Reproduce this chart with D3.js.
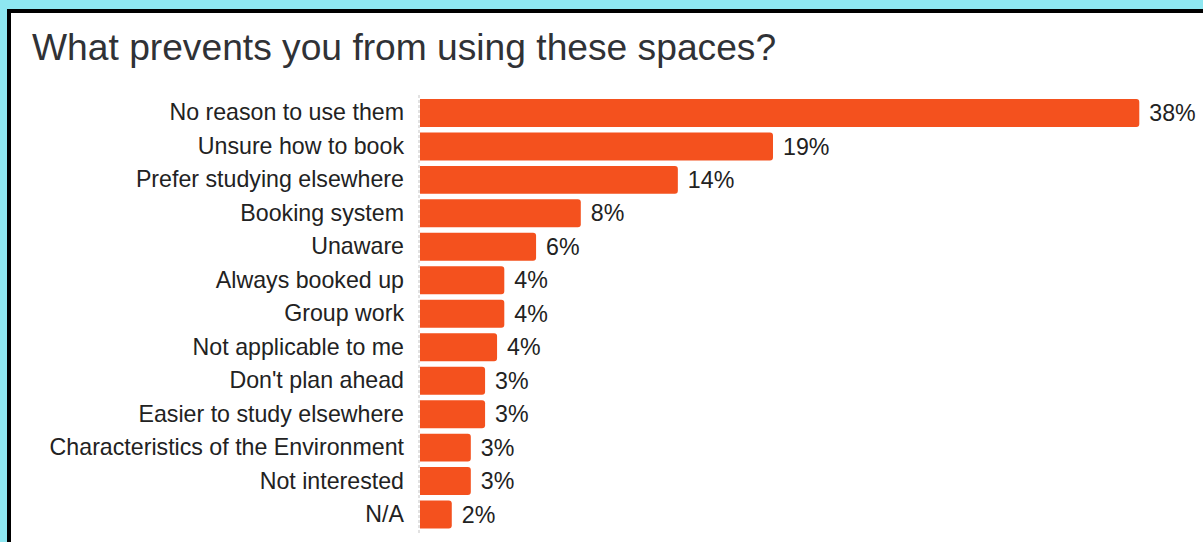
<!DOCTYPE html>
<html>
<head>
<meta charset="utf-8">
<script src="https://cdn.jsdelivr.net/npm/d3@7"></script>
<style>
  html, body { margin: 0; padding: 0; background: #8ee7f1; }
  svg { display: block; }
  text { font-family: "Liberation Sans", Arial, Helvetica, sans-serif; }
</style>
</head>
<body>
<svg id="chart" width="1203" height="542"></svg>
<script>
// Survey responses: share of respondents citing each reason (%)
const categories = [
  "No reason to use them",
  "Unsure how to book",
  "Prefer studying elsewhere",
  "Booking system",
  "Unaware",
  "Always booked up",
  "Group work",
  "Not applicable to me",
  "Don't plan ahead",
  "Easier to study elsewhere",
  "Characteristics of the Environment",
  "Not interested",
  "N/A"
];
const values = [37.8, 18.55, 13.55, 8.45, 6.1, 4.43, 4.43, 4.05, 3.42, 3.42, 2.67, 2.67, 1.67];
const title = "What prevents you from using these spaces?";

const svg = d3.select("#chart");

// white panel with a heavy black frame (runs off the right and bottom edges)
svg.append("rect")
  .attr("x", 9).attr("y", 11)
  .attr("width", 1240).attr("height", 600)
  .attr("fill", "#ffffff")
  .attr("stroke", "#000000")
  .attr("stroke-width", 4);

svg.append("text")
  .attr("x", 32).attr("y", 60)
  .attr("font-size", 37.2)
  .attr("fill", "#303236")
  .text(title);

const x0 = 420;
const x = d3.scaleLinear().domain([0, d3.max(values)]).range([x0, 1139.3]);
const y = d3.scaleBand()
  .domain(categories)
  .range([96.2, 531.3])
  .paddingInner(0.165)
  .paddingOuter(0.0825);

const data = categories.map((c, i) => ({ category: c, value: values[i] }));

// bar with square left end and rounded right corners
function barPath(d) {
  const left = x(0), right = x(d.value), top = y(d.category), h = y.bandwidth();
  const r = Math.min(3, (right - left) / 2);
  const p = d3.path();
  p.moveTo(left, top);
  p.lineTo(right - r, top);
  p.arcTo(right, top, right, top + r, r);
  p.lineTo(right, top + h - r);
  p.arcTo(right, top + h, right - r, top + h, r);
  p.lineTo(left, top + h);
  p.closePath();
  return p.toString();
}

svg.append("g")
  .selectAll("path")
  .data(data)
  .join("path")
  .attr("d", barPath)
  .attr("fill", "#f4511e");

// category axis
const yAxis = d3.axisLeft(y).tickSize(0).tickPadding(16);
const ag = svg.append("g")
  .attr("transform", `translate(${x0},0)`)
  .call(yAxis);
ag.select(".domain").remove();
ag.selectAll("text")
  .attr("font-size", 23.2)
  .attr("fill", "#222222")
  .style("font-family", "'Liberation Sans', Arial, Helvetica, sans-serif");

// baseline
svg.append("line")
  .attr("x1", x0 - 1).attr("x2", x0 - 1)
  .attr("y1", 95).attr("y2", 534)
  .attr("stroke", "#e2e2e2")
  .attr("stroke-width", 2)
  .attr("stroke-dasharray", "3,2");

// value labels
svg.append("g")
  .selectAll("text")
  .data(data)
  .join("text")
  .attr("x", d => x(d.value) + 10)
  .attr("y", d => y(d.category) + y.bandwidth() / 2)
  .attr("dy", "0.35em")
  .attr("font-size", 23.2)
  .attr("fill", "#222222")
  .text(d => d3.format(".0f")(d.value) + "%");
</script>
</body>
</html>
